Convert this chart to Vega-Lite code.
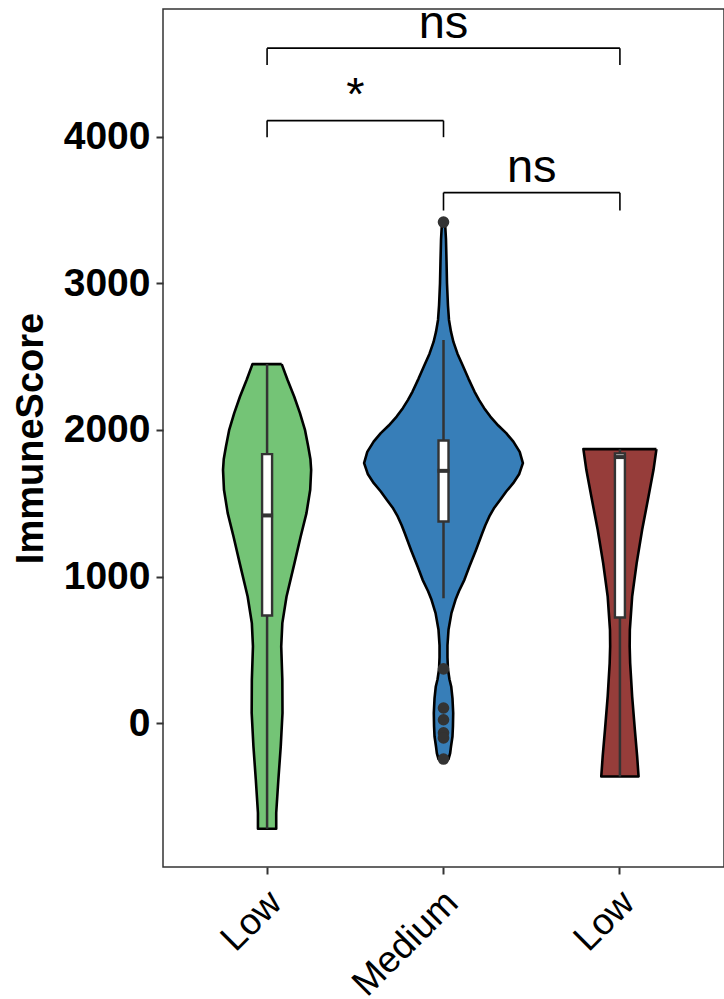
{
  "$schema": "https://vega.github.io/schema/vega-lite/v6.json",
  "width": 561,
  "height": 858,
  "autosize": "none",
  "padding": {"left": 163, "top": 9, "right": 0, "bottom": 132},
  "background": "white",
  "config": {
    "view": {"stroke": "#333333", "strokeWidth": 1.5},
    "font": "Liberation Sans"
  },
  "datasets": {
    "violin": [
      {"g":"Low1","v":2449,"d":0.184,"o":1},{"g":"Low1","v":2342,"d":0.257,"o":2},{"g":"Low1","v":2228,"d":0.341,"o":3},{"g":"Low1","v":2115,"d":0.414,"o":4},{"g":"Low1","v":2001,"d":0.477,"o":5},{"g":"Low1","v":1887,"d":0.518,"o":6},{"g":"Low1","v":1800,"d":0.546,"o":7},{"g":"Low1","v":1728,"d":0.555,"o":8},{"g":"Low1","v":1592,"d":0.543,"o":9},{"g":"Low1","v":1433,"d":0.496,"o":10},{"g":"Low1","v":1273,"d":0.423,"o":11},{"g":"Low1","v":1092,"d":0.345,"o":12},{"g":"Low1","v":864,"d":0.245,"o":13},{"g":"Low1","v":683,"d":0.192,"o":14},{"g":"Low1","v":524,"d":0.178,"o":15},{"g":"Low1","v":297,"d":0.192,"o":16},{"g":"Low1","v":70,"d":0.194,"o":17},{"g":"Low1","v":-158,"d":0.172,"o":18},{"g":"Low1","v":-385,"d":0.142,"o":19},{"g":"Low1","v":-612,"d":0.115,"o":20},{"g":"Low1","v":-719,"d":0.115,"o":21},
      {"g":"Low1","v":-719,"d":-0.115,"o":22},{"g":"Low1","v":-612,"d":-0.115,"o":23},{"g":"Low1","v":-385,"d":-0.142,"o":24},{"g":"Low1","v":-158,"d":-0.172,"o":25},{"g":"Low1","v":70,"d":-0.194,"o":26},{"g":"Low1","v":297,"d":-0.192,"o":27},{"g":"Low1","v":524,"d":-0.178,"o":28},{"g":"Low1","v":683,"d":-0.192,"o":29},{"g":"Low1","v":864,"d":-0.245,"o":30},{"g":"Low1","v":1092,"d":-0.345,"o":31},{"g":"Low1","v":1273,"d":-0.423,"o":32},{"g":"Low1","v":1433,"d":-0.496,"o":33},{"g":"Low1","v":1592,"d":-0.543,"o":34},{"g":"Low1","v":1728,"d":-0.555,"o":35},{"g":"Low1","v":1800,"d":-0.546,"o":36},{"g":"Low1","v":1887,"d":-0.518,"o":37},{"g":"Low1","v":2001,"d":-0.477,"o":38},{"g":"Low1","v":2115,"d":-0.414,"o":39},{"g":"Low1","v":2228,"d":-0.341,"o":40},{"g":"Low1","v":2342,"d":-0.257,"o":41},{"g":"Low1","v":2449,"d":-0.184,"o":42},{"g":"Low1","v":2449,"d":0.184,"o":43},
      {"g":"Medium","v":3417,"d":0.019,"o":1},{"g":"Medium","v":3300,"d":0.031,"o":2},{"g":"Medium","v":3150,"d":0.038,"o":3},{"g":"Medium","v":3000,"d":0.044,"o":4},{"g":"Medium","v":2850,"d":0.056,"o":5},{"g":"Medium","v":2750,"d":0.069,"o":6},{"g":"Medium","v":2670,"d":0.094,"o":7},{"g":"Medium","v":2600,"d":0.125,"o":8},{"g":"Medium","v":2520,"d":0.176,"o":9},{"g":"Medium","v":2444,"d":0.238,"o":10},{"g":"Medium","v":2350,"d":0.314,"o":11},{"g":"Medium","v":2262,"d":0.39,"o":12},{"g":"Medium","v":2205,"d":0.447,"o":13},{"g":"Medium","v":2150,"d":0.51,"o":14},{"g":"Medium","v":2091,"d":0.59,"o":15},{"g":"Medium","v":2030,"d":0.69,"o":16},{"g":"Medium","v":1978,"d":0.79,"o":17},{"g":"Medium","v":1920,"d":0.88,"o":18},{"g":"Medium","v":1850,"d":0.96,"o":19},{"g":"Medium","v":1774,"d":1.0,"o":20},{"g":"Medium","v":1700,"d":0.954,"o":21},{"g":"Medium","v":1637,"d":0.878,"o":22},{"g":"Medium","v":1580,"d":0.79,"o":23},{"g":"Medium","v":1524,"d":0.715,"o":24},{"g":"Medium","v":1470,"d":0.64,"o":25},{"g":"Medium","v":1410,"d":0.577,"o":26},{"g":"Medium","v":1350,"d":0.527,"o":27},{"g":"Medium","v":1297,"d":0.489,"o":28},{"g":"Medium","v":1180,"d":0.408,"o":29},{"g":"Medium","v":1069,"d":0.326,"o":30},{"g":"Medium","v":978,"d":0.263,"o":31},{"g":"Medium","v":900,"d":0.194,"o":32},{"g":"Medium","v":842,"d":0.151,"o":33},{"g":"Medium","v":751,"d":0.1,"o":34},{"g":"Medium","v":637,"d":0.063,"o":35},{"g":"Medium","v":530,"d":0.05,"o":36},{"g":"Medium","v":450,"d":0.05,"o":37},{"g":"Medium","v":371,"d":0.056,"o":38},{"g":"Medium","v":300,"d":0.075,"o":39},{"g":"Medium","v":251,"d":0.097,"o":40},{"g":"Medium","v":170,"d":0.113,"o":41},{"g":"Medium","v":70,"d":0.122,"o":42},{"g":"Medium","v":-20,"d":0.119,"o":43},{"g":"Medium","v":-90,"d":0.113,"o":44},{"g":"Medium","v":-160,"d":0.094,"o":45},{"g":"Medium","v":-203,"d":0.084,"o":46},{"g":"Medium","v":-244,"d":0.063,"o":47},
      {"g":"Medium","v":-244,"d":-0.063,"o":48},{"g":"Medium","v":-203,"d":-0.084,"o":49},{"g":"Medium","v":-160,"d":-0.094,"o":50},{"g":"Medium","v":-90,"d":-0.113,"o":51},{"g":"Medium","v":-20,"d":-0.119,"o":52},{"g":"Medium","v":70,"d":-0.122,"o":53},{"g":"Medium","v":170,"d":-0.113,"o":54},{"g":"Medium","v":251,"d":-0.097,"o":55},{"g":"Medium","v":300,"d":-0.075,"o":56},{"g":"Medium","v":371,"d":-0.056,"o":57},{"g":"Medium","v":450,"d":-0.05,"o":58},{"g":"Medium","v":530,"d":-0.05,"o":59},{"g":"Medium","v":637,"d":-0.063,"o":60},{"g":"Medium","v":751,"d":-0.1,"o":61},{"g":"Medium","v":842,"d":-0.151,"o":62},{"g":"Medium","v":900,"d":-0.194,"o":63},{"g":"Medium","v":978,"d":-0.263,"o":64},{"g":"Medium","v":1069,"d":-0.326,"o":65},{"g":"Medium","v":1180,"d":-0.408,"o":66},{"g":"Medium","v":1297,"d":-0.489,"o":67},{"g":"Medium","v":1350,"d":-0.527,"o":68},{"g":"Medium","v":1410,"d":-0.577,"o":69},{"g":"Medium","v":1470,"d":-0.64,"o":70},{"g":"Medium","v":1524,"d":-0.715,"o":71},{"g":"Medium","v":1580,"d":-0.79,"o":72},{"g":"Medium","v":1637,"d":-0.878,"o":73},{"g":"Medium","v":1700,"d":-0.954,"o":74},{"g":"Medium","v":1774,"d":-1.0,"o":75},{"g":"Medium","v":1850,"d":-0.96,"o":76},{"g":"Medium","v":1920,"d":-0.88,"o":77},{"g":"Medium","v":1978,"d":-0.79,"o":78},{"g":"Medium","v":2030,"d":-0.69,"o":79},{"g":"Medium","v":2091,"d":-0.59,"o":80},{"g":"Medium","v":2150,"d":-0.51,"o":81},{"g":"Medium","v":2205,"d":-0.447,"o":82},{"g":"Medium","v":2262,"d":-0.39,"o":83},{"g":"Medium","v":2350,"d":-0.314,"o":84},{"g":"Medium","v":2444,"d":-0.238,"o":85},{"g":"Medium","v":2520,"d":-0.176,"o":86},{"g":"Medium","v":2600,"d":-0.125,"o":87},{"g":"Medium","v":2670,"d":-0.094,"o":88},{"g":"Medium","v":2750,"d":-0.069,"o":89},{"g":"Medium","v":2850,"d":-0.056,"o":90},{"g":"Medium","v":3000,"d":-0.044,"o":91},{"g":"Medium","v":3150,"d":-0.038,"o":92},{"g":"Medium","v":3300,"d":-0.031,"o":93},{"g":"Medium","v":3417,"d":-0.019,"o":94},{"g":"Medium","v":3417,"d":0.019,"o":95},
      {"g":"Low2","v":1869,"d":0.46,"o":1},{"g":"Low2","v":1728,"d":0.423,"o":2},{"g":"Low2","v":1546,"d":0.36,"o":3},{"g":"Low2","v":1319,"d":0.28,"o":4},{"g":"Low2","v":1092,"d":0.211,"o":5},{"g":"Low2","v":864,"d":0.154,"o":6},{"g":"Low2","v":637,"d":0.125,"o":7},{"g":"Low2","v":524,"d":0.123,"o":8},{"g":"Low2","v":410,"d":0.129,"o":9},{"g":"Low2","v":183,"d":0.154,"o":10},{"g":"Low2","v":-44,"d":0.188,"o":11},{"g":"Low2","v":-226,"d":0.217,"o":12},{"g":"Low2","v":-363,"d":0.235,"o":13},
      {"g":"Low2","v":-363,"d":-0.235,"o":14},{"g":"Low2","v":-226,"d":-0.217,"o":15},{"g":"Low2","v":-44,"d":-0.188,"o":16},{"g":"Low2","v":183,"d":-0.154,"o":17},{"g":"Low2","v":410,"d":-0.129,"o":18},{"g":"Low2","v":524,"d":-0.123,"o":19},{"g":"Low2","v":637,"d":-0.125,"o":20},{"g":"Low2","v":864,"d":-0.154,"o":21},{"g":"Low2","v":1092,"d":-0.211,"o":22},{"g":"Low2","v":1319,"d":-0.28,"o":23},{"g":"Low2","v":1546,"d":-0.36,"o":24},{"g":"Low2","v":1728,"d":-0.423,"o":25},{"g":"Low2","v":1869,"d":-0.46,"o":26},{"g":"Low2","v":1869,"d":0.46,"o":27}
    ],
    "box": [
      {"g":"Low1","lo":-719,"q1":735,"med":1417,"q3":1835,"hi":2449},
      {"g":"Medium","lo":853,"q1":1376,"med":1721,"q3":1928,"hi":2614},
      {"g":"Low2","lo":-363,"q1":721,"med":1815,"q3":1840,"hi":1869}
    ],
    "outliers": [
      {"g":"Medium","v":3417},{"g":"Medium","v":371},{"g":"Medium","v":104},{"g":"Medium","v":24},{"g":"Medium","v":-65},{"g":"Medium","v":-100},{"g":"Medium","v":-244}
    ],
    "brackets": [
      {"from":"Low1","to":"Low2","y":4603,"tick":4489,"label":"ns","span":2},
      {"from":"Low1","to":"Medium","y":4109,"tick":3996,"label":"*","span":1},
      {"from":"Medium","to":"Low2","y":3618,"tick":3496,"label":"ns","span":1}
    ]
  },
  "layer": [
    {
      "data": {"name": "violin"},
      "mark": {"type": "line", "stroke": "black", "strokeWidth": 2.6, "strokeJoin": "round", "interpolate": "linear"},
      "encoding": {
        "x": {
          "field": "g", "type": "nominal",
          "scale": {"type": "band", "domain": ["Low1", "Medium", "Low2"], "paddingInner": 0, "paddingOuter": 0.09},
          "axis": {
            "title": null, "domain": false,
            "labelExpr": "datum.value == 'Medium' ? 'Medium' : 'Low'",
            "labelAngle": -45, "labelAlign": "right", "labelBaseline": "top",
            "labelFontSize": 37, "labelFont": "Liberation Sans", "labelColor": "black",
            "labelPadding": 10, "labelOffset": -4, "labelOverlap": false, "labelBound": false, "labelFlush": false,
            "tickSize": 7, "tickColor": "#333333", "tickWidth": 2
          }
        },
        "xOffset": {"field": "d", "type": "quantitative", "scale": {"domain": [-1, 1], "range": [8.81, 167.61]}},
        "y": {
          "field": "v", "type": "quantitative",
          "scale": {"domain": [-980, 4870], "nice": false, "zero": false},
          "axis": {
            "values": [0, 1000, 2000, 3000, 4000], "format": "d",
            "grid": false, "domain": false,
            "labelFontSize": 39, "labelFontWeight": "bold", "labelColor": "black", "labelFont": "Liberation Sans",
            "labelPadding": 6,
            "tickSize": 7, "tickColor": "#333333", "tickWidth": 2,
            "title": "ImmuneScore", "titleFontSize": 38, "titleFontWeight": "bold", "titleColor": "black", "titleFont": "Liberation Sans",
            "titlePadding": 13
          }
        },
        "fill": {"field": "g", "type": "nominal", "scale": {"domain": ["Low1", "Medium", "Low2"], "range": ["#74C476", "#377EB8", "#963D3A"]}, "legend": null},
        "detail": {"field": "g"},
        "order": {"field": "o", "type": "quantitative"}
      }
    },
    {
      "data": {"name": "box"},
      "mark": {"type": "rule", "color": "#333333", "strokeWidth": 2.5},
      "encoding": {
        "x": {"field": "g", "type": "nominal"},
        "y": {"field": "lo", "type": "quantitative"},
        "y2": {"field": "hi"}
      }
    },
    {
      "data": {"name": "box"},
      "mark": {"type": "bar", "width": 10, "fill": "white", "stroke": "#333333", "strokeWidth": 2.4},
      "encoding": {
        "x": {"field": "g", "type": "nominal"},
        "y": {"field": "q1", "type": "quantitative"},
        "y2": {"field": "q3"}
      }
    },
    {
      "data": {"name": "box"},
      "mark": {"type": "tick", "orient": "horizontal", "size": 12, "thickness": 4, "color": "#333333", "opacity": 1},
      "encoding": {
        "x": {"field": "g", "type": "nominal"},
        "y": {"field": "med", "type": "quantitative"}
      }
    },
    {
      "data": {"name": "outliers"},
      "mark": {"type": "circle", "size": 135, "color": "#333333", "opacity": 1},
      "encoding": {
        "x": {"field": "g", "type": "nominal"},
        "y": {"field": "v", "type": "quantitative"}
      }
    },
    {
      "data": {"name": "brackets"},
      "mark": {"type": "rule", "color": "black", "strokeWidth": 1.6},
      "encoding": {
        "x": {"field": "from", "type": "nominal"},
        "x2": {"field": "to"},
        "y": {"field": "y", "type": "quantitative"}
      }
    },
    {
      "data": {"name": "brackets"},
      "mark": {"type": "rule", "color": "black", "strokeWidth": 1.6},
      "encoding": {
        "x": {"field": "from", "type": "nominal"},
        "y": {"field": "y", "type": "quantitative"},
        "y2": {"field": "tick"}
      }
    },
    {
      "data": {"name": "brackets"},
      "mark": {"type": "rule", "color": "black", "strokeWidth": 1.6},
      "encoding": {
        "x": {"field": "to", "type": "nominal"},
        "y": {"field": "y", "type": "quantitative"},
        "y2": {"field": "tick"}
      }
    },
    {
      "data": {"name": "brackets"},
      "transform": [{"filter": "datum.span == 1"}],
      "mark": {"type": "text", "fontSize": 47, "font": "Liberation Sans", "color": "black", "baseline": "alphabetic", "align": "center", "dy": -11},
      "encoding": {
        "x": {"field": "from", "type": "nominal", "bandPosition": 1},
        "y": {"field": "y", "type": "quantitative"},
        "text": {"field": "label"}
      }
    },
    {
      "data": {"name": "brackets"},
      "transform": [{"filter": "datum.span == 2"}],
      "mark": {"type": "text", "fontSize": 47, "font": "Liberation Sans", "color": "black", "baseline": "alphabetic", "align": "center", "dy": -10},
      "encoding": {
        "x": {"field": "from", "type": "nominal", "bandPosition": 1.5},
        "y": {"field": "y", "type": "quantitative"},
        "text": {"field": "label"}
      }
    }
  ]
}
